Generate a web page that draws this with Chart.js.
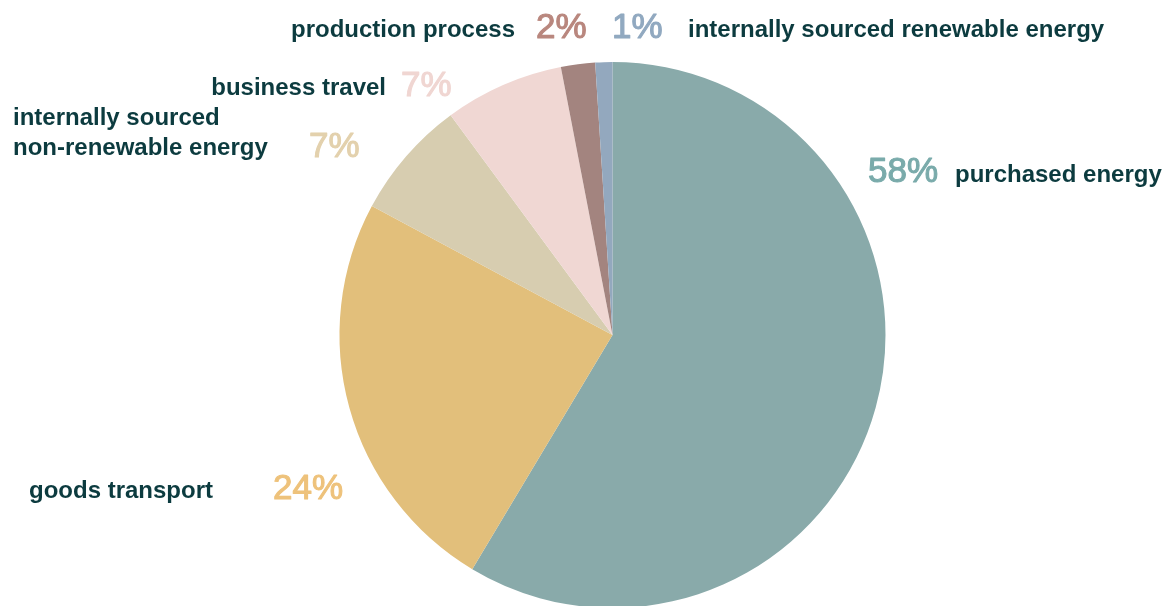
<!DOCTYPE html>
<html>
<head>
<meta charset="utf-8">
<script src="https://cdn.jsdelivr.net/npm/chart.js@4.4.1/dist/chart.umd.min.js"></script>
<style>
    html, body { margin: 0; padding: 0; background: #ffffff; overflow: hidden; }
    #wrap { position: relative; width: 1165px; height: 610px; }
</style>
</head>
<body>
<div id="wrap"><canvas id="pieChart"></canvas></div>
<script>
// emission sources, clockwise from the top
const categories = [
    'purchased energy',
    'goods transport',
    'internally sourced non-renewable energy',
    'business travel',
    'production process',
    'internally sourced renewable energy'
];
const shares = [58, 24, 7, 7, 2, 1];
const sliceColors = ['#89aaaa', '#e2bf7b', '#d7cdb0', '#f0d7d3', '#a3847f', '#93a8be'];
const percentColors = ['#7aabab', '#eec27b', '#e3d1ad', '#f0d6d2', '#b9877e', '#91a9c0'];

// where each label pair sits: name lines + percentage, baseline anchored
const labelLayout = [
    { name: ['purchased energy'], nameX: 955, nameAlign: 'left', nameY: 182, pctX: 868, pctY: 182 },
    { name: ['goods transport'], nameX: 29, nameAlign: 'left', nameY: 498, pctX: 273, pctY: 499 },
    { name: ['internally sourced', 'non-renewable energy'], nameX: 13, nameAlign: 'left', nameY: 125, pctX: 309, pctY: 157 },
    { name: ['business travel'], nameX: 386, nameAlign: 'right', nameY: 95, pctX: 401, pctY: 96 },
    { name: ['production process'], nameX: 515, nameAlign: 'right', nameY: 37, pctX: 536, pctY: 38 },
    { name: ['internally sourced renewable energy'], nameX: 688, nameAlign: 'left', nameY: 37, pctX: 612, pctY: 38 }
];

const textColor = '#0c3b3f';
const nameFont = 'bold 24px "Liberation Sans", Arial, sans-serif';
const pctFont = '35px "Liberation Sans", Arial, sans-serif';

const sliceLabels = {
    id: 'sliceLabels',
    afterDraw(chart) {
        const ctx = chart.ctx;
        ctx.save();
        ctx.textBaseline = 'alphabetic';
        labelLayout.forEach((pos, i) => {
            ctx.font = nameFont;
            ctx.fillStyle = textColor;
            ctx.textAlign = pos.nameAlign;
            pos.name.forEach((line, k) => {
                ctx.fillText(line, pos.nameX, pos.nameY + k * 30);
            });
            // percentages: regular face thickened a touch with a thin stroke
            ctx.font = pctFont;
            ctx.fillStyle = percentColors[i];
            ctx.strokeStyle = percentColors[i];
            ctx.lineWidth = 1.1;
            ctx.lineJoin = 'round';
            ctx.textAlign = 'left';
            ctx.fillText(shares[i] + '%', pos.pctX, pos.pctY);
            ctx.strokeText(shares[i] + '%', pos.pctX, pos.pctY);
        });
        ctx.restore();
    }
};

const ctx = document.getElementById('pieChart').getContext('2d');
new Chart(ctx, {
    type: 'pie',
    data: {
        labels: categories,
        datasets: [{
            data: shares,
            backgroundColor: sliceColors,
            borderWidth: 0
        }]
    },
    options: {
        responsive: true,
        maintainAspectRatio: false,
        animation: false,
        layout: { padding: { top: 62, bottom: 2, left: 60, right: 0 } },
        plugins: {
            legend: { display: false },
            tooltip: { enabled: false }
        }
    },
    plugins: [sliceLabels]
});
</script>
</body>
</html>
